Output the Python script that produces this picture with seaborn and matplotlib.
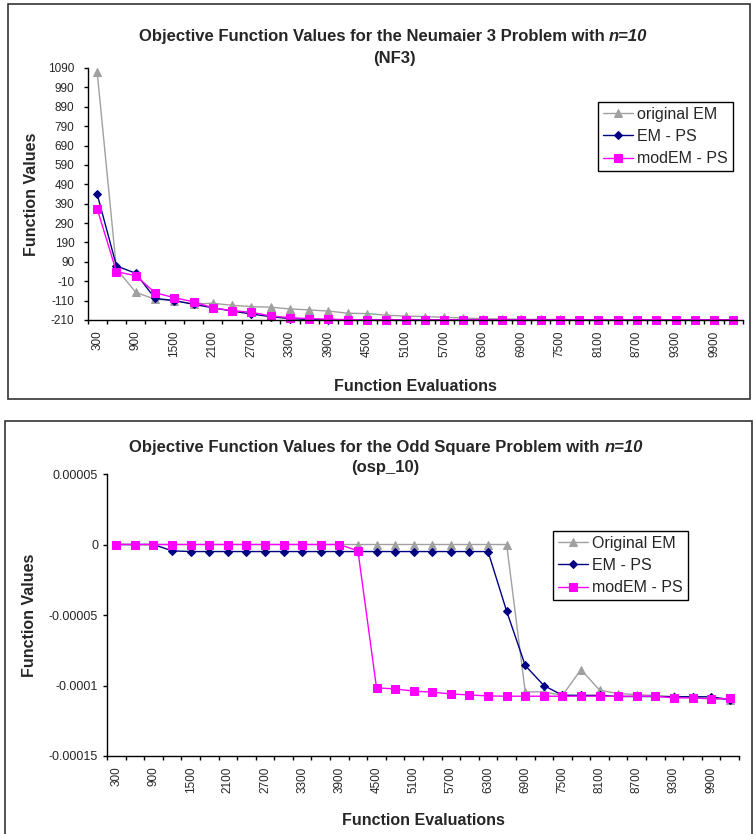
import matplotlib
matplotlib.use("Agg")
import matplotlib.pyplot as plt
import seaborn as sns
import pandas as pd
from matplotlib.patches import Rectangle

# function evaluations (categories)
evals = [300, 600, 900, 1200, 1500, 1800, 2100, 2400, 2700, 3000, 3300, 3600,
         3900, 4200, 4500, 4800, 5100, 5400, 5700, 6000, 6300, 6600, 6900, 7200,
         7500, 7800, 8100, 8400, 8700, 9000, 9300, 9600, 9900, 10200]

# Neumaier 3 (NF3)
nf3_original = [1070, 55, -67, -103, -110, -127, -124, -134, -141, -144, -153, -158,
                -164, -175, -177, -185, -190, -192, -196, -200, -203, -205, -206, -207,
                -207, -208, -208, -208, -208, -209, -209, -209, -209, -209]
nf3_emps = [440, 69, 31, -98, -110, -129, -147, -164, -179, -193, -203, -207,
            -209, -209, -209, -209, -209, -209, -209, -209, -209, -209, -209, -209,
            -209, -209, -209, -209, -209, -209, -209, -209, -209, -209]
nf3_modemps = [364, 39, 19, -69, -95, -116, -147, -162, -170, -189, -198, -203,
               -206, -208, -209, -209, -209, -209, -209, -209, -209, -209, -209, -209,
               -209, -209, -209, -209, -209, -209, -209, -209, -209, -209]

# Odd Square (osp_10)
osp_original = [0, 0, 0, 0, 0, 0, 0, 0, 0, 0, 0, 0,
                0, 0, 0, 0, 0, 0, 0, 0, 0, 0, -0.0001045, -0.0001045,
                -0.000107, -0.0000887, -0.0001033, -0.0001057, -0.0001064, -0.0001072,
                -0.0001078, -0.0001082, -0.0001095, -0.00011]
osp_emps = [0, 0, 0, -0.0000045, -0.000005, -0.000005, -0.000005, -0.000005,
            -0.000005, -0.000005, -0.000005, -0.000005, -0.000005, -0.000005,
            -0.000005, -0.000005, -0.000005, -0.000005, -0.000005, -0.000005,
            -0.000005, -0.0000473, -0.0000858, -0.0001, -0.0001069, -0.000107,
            -0.000107, -0.0001078, -0.0001078, -0.0001078, -0.000108, -0.000108,
            -0.000108, -0.00011]
osp_modemps = [0, 0, 0, 0, 0, 0, 0, 0, 0, 0, 0, 0,
               0, -0.0000045, -0.0001017, -0.0001024, -0.000104, -0.0001047,
               -0.000106, -0.0001067, -0.0001074, -0.0001076, -0.0001076, -0.0001076,
               -0.0001076, -0.0001076, -0.0001076, -0.0001076, -0.0001076, -0.0001076,
               -0.0001088, -0.0001088, -0.0001095, -0.0001092]

nf3_yticks = [-210, -110, -10, 90, 190, 290, 390, 490, 590, 690, 790, 890, 990, 1090]
osp_yticks = [-0.00015, -0.0001, -0.00005, 0, 0.00005]
osp_yticklabels = ["-0.00015", "-0.0001", "-0.00005", "0", "0.00005"]
xtick_vals = evals[::2]

sns.set_style("white")
plt.rcParams['font.family'] = ['Liberation Sans', 'DejaVu Sans']

W, H = 754, 834
fig = plt.figure(figsize=(W / 100, H / 100), dpi=100)


def px_axes(left, top, right, bottom):
    return fig.add_axes([left / W, 1 - bottom / H, (right - left) / W, (bottom - top) / H])


def two_part_title(cx, cy, main, ital, size=12):
    base = 1 - (cy + 6) / H
    t1 = fig.text(0, base, main, fontsize=size, fontweight='bold', va='baseline', ha='left')
    t2 = fig.text(0, base, ital, fontsize=size, fontweight='bold', style='italic',
                  va='baseline', ha='left')
    fig.canvas.draw()
    r = fig.canvas.get_renderer()
    w1 = t1.get_window_extent(r).width
    w2 = t2.get_window_extent(r).width
    gap = 4.5
    x0 = cx - (w1 + gap + w2) / 2
    t1.set_x(x0 / W)
    t2.set_x((x0 + w1 + gap) / W)


def draw_panel(ax, series, ylim, yticks, yticklabels, ylabel_x, xlabel_y, ysize, ypad, legend_xy):
    colors = ['#A0A0A0', '#000080', '#FF00FF']
    markers = ['^', 'D', 's']
    sizes = [6, 4, 6]
    for (label, vals), col, mk, ms in zip(series, colors, markers, sizes):
        df = pd.DataFrame({'evals': evals, 'value': vals})
        sns.lineplot(data=df, x='evals', y='value', ax=ax, color=col, marker=mk,
                     markersize=ms, markeredgecolor=col, linewidth=1, label=label,
                     errorbar=None, clip_on=False)
    ax.set_xlim(150, 10350)
    ax.set_ylim(*ylim)
    ax.set_xticks(xtick_vals)
    ax.set_xticklabels([str(v) for v in xtick_vals])
    ax.set_xticks([e - 150 for e in evals] + [evals[-1] + 150], minor=True)
    ax.set_yticks(yticks)
    ax.set_yticklabels(yticklabels)
    ax.tick_params(axis='x', which='major', length=0, pad=7.5, labelrotation=90, labelsize=8.5)
    ax.tick_params(axis='x', which='minor', length=3, width=1, direction='out', color='black', bottom=True)
    ax.tick_params(axis='y', length=3, width=1, direction='out', color='black', left=True,
                   pad=ypad, labelsize=ysize)
    sns.despine(ax=ax)
    for s in ['left', 'bottom']:
        ax.spines[s].set_color('black')
        ax.spines[s].set_linewidth(1)
    ax.set_xlabel('Function Evaluations', fontsize=11.5, fontweight='bold', va='center')
    ax.xaxis.set_label_coords(0.5, xlabel_y)
    ax.set_ylabel('Function Values', fontsize=11.5, fontweight='bold', va='center')
    ax.yaxis.set_label_coords(ylabel_x, 0.5)
    leg = ax.legend(loc='upper left', bbox_to_anchor=legend_xy, frameon=True, fancybox=False,
                    edgecolor='black', fontsize=11.5, handlelength=1.9, borderaxespad=0,
                    borderpad=0.3, labelspacing=0.45, handletextpad=0.25, framealpha=1)
    leg.get_frame().set_linewidth(1)


ax1 = px_axes(87.5, 68, 743, 320)
ax2 = px_axes(107, 474, 739, 756)

draw_panel(ax1,
           [('original EM', nf3_original), ('EM - PS', nf3_emps), ('modEM - PS', nf3_modemps)],
           (-210, 1090), nf3_yticks, [str(v) for v in nf3_yticks],
           -0.0847, -0.262, 8.5, 6.5, ((598 - 87.5) / 655.5, (320 - 102) / 252))
draw_panel(ax2,
           [('Original EM', osp_original), ('EM - PS', osp_emps), ('modEM - PS', osp_modemps)],
           (-0.00015, 0.00005), osp_yticks, osp_yticklabels,
           -0.1234, -0.227, 9, 3.4, ((553 - 107) / 632, (756 - 531) / 282))

# panel borders
fig.patches.append(Rectangle((8 / W, 1 - 399 / H), 742 / W, 395 / H, transform=fig.transFigure,
                             fill=False, edgecolor='#333333', linewidth=1.2))
fig.patches.append(Rectangle((5 / W, -0.02), 747 / W, (834 - 421) / H + 0.02,
                             transform=fig.transFigure, fill=False, edgecolor='#333333',
                             linewidth=1.2))

two_part_title(393, 35, 'Objective Function Values for the Neumaier 3 Problem with', 'n=10')
fig.text(394 / W, 1 - 58 / H, '(NF3)', fontsize=12, fontweight='bold', ha='center', va='center')
two_part_title(386, 446, 'Objective Function Values for the Odd Square Problem with', 'n=10')
fig.text(385 / W, 1 - 468 / H, '(osp_10)', fontsize=12, fontweight='bold', ha='center', va='center')

fig.savefig('out.png', dpi=100)
